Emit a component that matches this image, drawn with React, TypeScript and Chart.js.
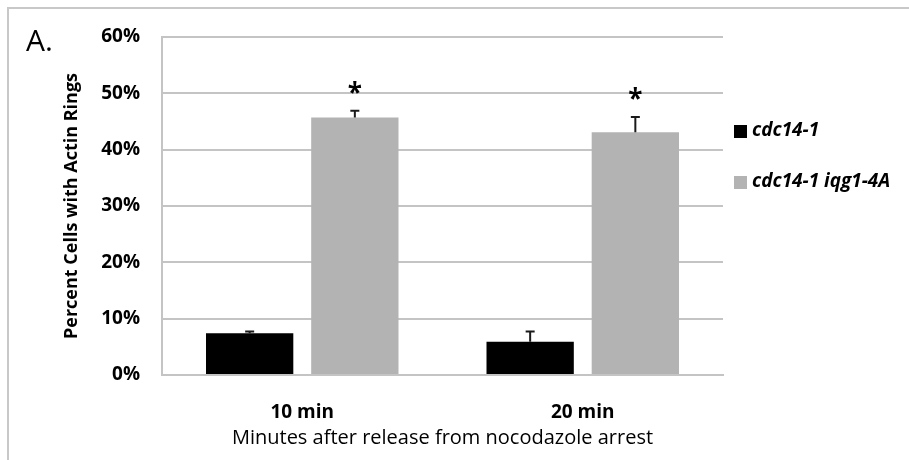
import React, { useEffect, useRef } from 'react';
import { Chart, registerables } from 'chart.js';

Chart.register(...registerables);

const categories = ['10 min', '20 min'];
const seriesLabels = ['cdc14-1', 'cdc14-1 iqg1-4A'];
const seriesColors = ['#000000', '#b3b3b3'];
const cdc14Values = [7.4, 5.9];
const cdc14Errors = [0.3, 1.8];
const iqgValues = [45.7, 43.1];
const iqgErrors = [1.2, 2.7];
const cdc14Significant = [false, false];
const iqgSignificant = [true, true];
const yTickValues = [0, 10, 20, 30, 40, 50, 60];
const panelLabel = 'A.';
const yTitle = 'Percent Cells with Actin Rings';
const xTitle = 'Minutes after release from nocodazole arrest';

const FONT = '"Open Sans", sans-serif';
const GRID = '#c4c4c4';

const framePlugin = {
  id: 'frame',
  beforeDraw(chart: any) {
    const ctx = chart.ctx;
    ctx.save();
    ctx.fillStyle = '#ffffff';
    ctx.fillRect(0, 0, chart.width, chart.height);
    ctx.fillStyle = '#c8c8c8';
    ctx.fillRect(7, 7, chart.width, 2);
    ctx.fillRect(7, 7, 2, chart.height);
    ctx.restore();
  },
  afterDraw(chart: any) {
    const ctx = chart.ctx;
    ctx.save();
    ctx.fillStyle = '#000';
    ctx.font = `30px ${FONT}`;
    ctx.textAlign = 'left';
    ctx.textBaseline = 'alphabetic';
    ctx.fillText(panelLabel, 26, 51);
    // legend
    const x0 = chart.chartArea.right + 11;
    const ys = [131, 182];
    chart.data.datasets.forEach((ds: any, i: number) => {
      ctx.fillStyle = ds.backgroundColor;
      ctx.fillRect(x0, ys[i] - 6, 13, 13);
      ctx.fillStyle = '#000';
      ctx.font = `italic bold 19px ${FONT}`;
      ctx.textBaseline = 'middle';
      ctx.fillText(ds.label, x0 + 18, ys[i]);
    });
    ctx.restore();
  },
};

const errorBarPlugin = {
  id: 'errorBars',
  afterDatasetsDraw(chart: any) {
    const ctx = chart.ctx;
    const y = chart.scales.y;
    chart.data.datasets.forEach((ds: any, i: number) => {
      const meta = chart.getDatasetMeta(i);
      meta.data.forEach((bar: any, j: number) => {
        const top = y.getPixelForValue(ds.data[j]);
        const errTop = y.getPixelForValue(ds.data[j] + ds.errors[j]);
        ctx.save();
        ctx.strokeStyle = '#1a1a1a';
        ctx.lineWidth = 2;
        ctx.beginPath();
        ctx.moveTo(bar.x, top);
        ctx.lineTo(bar.x, errTop);
        ctx.moveTo(bar.x - 4.5, errTop);
        ctx.lineTo(bar.x + 4.5, errTop);
        ctx.stroke();
        if (ds.significant[j]) {
          ctx.fillStyle = '#000';
          ctx.font = `bold 26px ${FONT}`;
          ctx.textAlign = 'center';
          ctx.textBaseline = 'alphabetic';
          ctx.fillText('*', bar.x, errTop - 24 + 15);
        }
        ctx.restore();
      });
    });
  },
};

export default function App() {
  const ref = useRef<HTMLCanvasElement>(null);
  useEffect(() => {
    if (!ref.current) return;
    const chart = new Chart(ref.current, {
      type: 'bar',
      data: {
        labels: categories,
        datasets: [
          {
            label: seriesLabels[0],
            data: cdc14Values,
            backgroundColor: seriesColors[0],
            errors: cdc14Errors,
            significant: cdc14Significant,
            categoryPercentage: 0.75,
            barPercentage: 0.83,
          } as any,
          {
            label: seriesLabels[1],
            data: iqgValues,
            backgroundColor: seriesColors[1],
            errors: iqgErrors,
            significant: iqgSignificant,
            categoryPercentage: 0.75,
            barPercentage: 0.83,
          } as any,
        ],
      },
      options: {
        responsive: false,
        animation: false,
        devicePixelRatio: 1,
        layout: { padding: { left: 0, top: 37, right: 186, bottom: 0 } },
        plugins: {
          legend: { display: false },
          tooltip: { enabled: false },
        },
        scales: {
          x: {
            grid: { display: false },
            border: { display: true, color: GRID, width: 2 },
            ticks: { color: '#000', font: { family: FONT, size: 19, weight: 'bold' }, padding: 18 },
            title: {
              display: true,
              text: xTitle,
              color: '#000',
              font: { family: FONT, size: 20 },
              padding: { top: 0, bottom: 10 },
            },
            afterFit: (s: any) => { s.height = 85; },
          },
          y: {
            min: 0,
            max: 60,
            afterBuildTicks: (s: any) => { s.ticks = yTickValues.map((v) => ({ value: v })); },
            grid: { color: GRID, lineWidth: 2, drawTicks: false },
            border: { display: true, color: GRID, width: 2 },
            ticks: {
              color: '#000',
              font: { family: FONT, size: 19, weight: 'bold' },
              padding: 22,
              callback: (v: any) => `${v}%`,
            },
            title: {
              display: true,
              text: yTitle,
              color: '#000',
              font: { family: FONT, size: 18, weight: 'bold' },
              padding: { top: 61, bottom: 0 },
            },
            afterFit: (s: any) => { s.width = 162; },
          },
        },
      },
      plugins: [framePlugin, errorBarPlugin],
    });
    return () => chart.destroy();
  }, []);
  return (
    <div style={{ position: 'fixed', left: 0, top: 0, width: 909, height: 460, overflow: 'hidden' }}>
      <canvas ref={ref} width={909} height={460} style={{ display: 'block' }} />
    </div>
  );
}
